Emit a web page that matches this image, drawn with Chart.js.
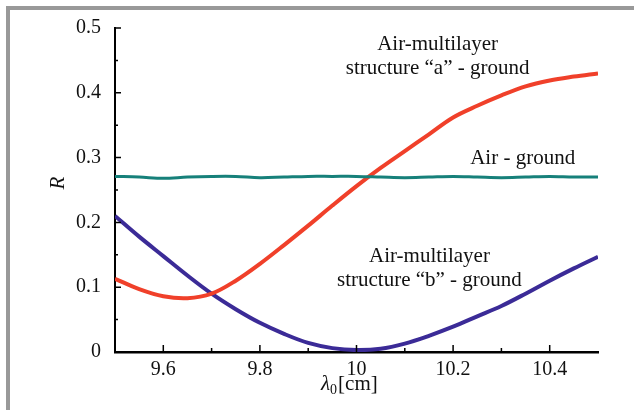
<!DOCTYPE html>
<html>
<head>
<meta charset="utf-8">
<script src="https://cdn.jsdelivr.net/npm/chart.js@4"></script>
<style>
  body { margin: 0; background: #fff; }
  canvas { display: block; }
</style>
</head>
<body>
<canvas id="reflChart" width="634" height="410"></canvas>
<script>
// wavelength lambda_0 [cm]
const lambdas = [9.50, 9.55, 9.60, 9.65, 9.70, 9.75, 9.80, 9.85, 9.90, 9.95, 10.00,
                 10.05, 10.10, 10.15, 10.20, 10.25, 10.30, 10.35, 10.40, 10.45, 10.50];

// reflection coefficient R
const airGround = [0.271, 0.270, 0.268, 0.270, 0.271, 0.271, 0.269, 0.270, 0.271, 0.271, 0.271,
                   0.270, 0.269, 0.270, 0.271, 0.270, 0.269, 0.270, 0.271, 0.270, 0.270];
const structA = [0.113, 0.097, 0.086, 0.083, 0.090, 0.110, 0.136, 0.165, 0.195, 0.226, 0.256,
                 0.284, 0.310, 0.336, 0.362, 0.380, 0.396, 0.410, 0.419, 0.425, 0.430];
const structB = [0.210, 0.178, 0.148, 0.118, 0.090, 0.066, 0.045, 0.028, 0.014, 0.006, 0.003,
                 0.005, 0.013, 0.025, 0.039, 0.055, 0.071, 0.090, 0.110, 0.129, 0.147];

const xTicks = [9.6, 9.7, 9.8, 9.9, 10.0, 10.1, 10.2, 10.3, 10.4];
const xLabels = ['9.6', '', '9.8', '', '10', '', '10.2', '', '10.4'];
const yLabels = ['0', '0.1', '0.2', '0.3', '0.4', '0.5'];

const curveLabels = [
  { lines: ['Air-multilayer', 'structure \u201ca\u201d - ground'], x: 10.168, y: [0.474, 0.438] },
  { lines: ['Air - ground'], x: 10.344, y: [0.298] },
  { lines: ['Air-multilayer', 'structure \u201cb\u201d - ground'], x: 10.151, y: [0.147, 0.111] }
];

const serif = '"Liberation Serif", "Times New Roman", serif';

function pts(ys) {
  return lambdas.map((x, i) => ({ x: x, y: ys[i] }));
}

// frame, inward ticks, axis titles and curve labels
const decor = {
  id: 'decor',
  beforeDraw(chart) {
    const c = chart.ctx;
    c.save();
    c.fillStyle = '#999999';
    c.fillRect(6, 6, 628, 4);
    c.fillRect(6, 6, 4, 404);
    c.restore();
  },
  afterDraw(chart) {
    const c = chart.ctx;
    const xs = chart.scales.x, ys = chart.scales.y;
    const a = chart.chartArea;
    c.save();
    c.strokeStyle = '#000';
    c.lineWidth = 1.5;
    c.beginPath();
    xs.ticks.forEach((t, i) => {
      const px = xs.getPixelForValue(t.value);
      const len = (i % 2 === 0) ? 7 : 4;
      c.moveTo(px, a.bottom);
      c.lineTo(px, a.bottom - len);
    });
    ys.ticks.forEach((t, i) => {
      const py = ys.getPixelForValue(t.value);
      const len = (i % 2 === 0) ? 6 : 3;
      c.moveTo(a.left, py);
      c.lineTo(a.left + len, py);
    });
    c.stroke();

    c.fillStyle = '#111';
    c.textAlign = 'center';
    c.textBaseline = 'middle';
    c.font = '21px ' + serif;
    curveLabels.forEach(l => {
      l.lines.forEach((s, k) => {
        c.fillText(s, xs.getPixelForValue(l.x), ys.getPixelForValue(l.y[k]));
      });
    });

    // y title
    c.save();
    c.translate(58, 183);
    c.rotate(-Math.PI / 2);
    c.font = 'italic 21px ' + serif;
    c.fillText('R', 0, 0);
    c.restore();

    // x title: lambda_0 [cm]
    c.textAlign = 'left';
    c.textBaseline = 'alphabetic';
    let x0 = 321, base = 390;
    c.font = 'italic 21px ' + serif;
    c.fillText('\u03bb', x0, base);
    x0 += c.measureText('\u03bb').width;
    c.font = '14px ' + serif;
    c.fillText('0', x0, base + 4);
    x0 += c.measureText('0').width + 1;
    c.font = '21px ' + serif;
    c.fillText('[cm]', x0, base);
    c.restore();
  }
};

new Chart(document.getElementById('reflChart'), {
  type: 'line',
  data: {
    datasets: [
      { label: 'Air - ground', data: pts(airGround), borderColor: '#16807a', borderWidth: 3 },
      { label: 'Air-multilayer structure "a" - ground', data: pts(structA), borderColor: '#f0402a', borderWidth: 4 },
      { label: 'Air-multilayer structure "b" - ground', data: pts(structB), borderColor: '#3b2b97', borderWidth: 4 }
    ]
  },
  options: {
    responsive: false,
    animation: false,
    layout: { padding: { top: 28, right: 36, left: 0, bottom: 0 } },
    elements: {
      point: { radius: 0 },
      line: { tension: 0.35, fill: false }
    },
    plugins: {
      legend: { display: false },
      tooltip: { enabled: false }
    },
    scales: {
      x: {
        type: 'linear',
        min: 9.5,
        max: 10.5,
        afterBuildTicks: s => { s.ticks = xTicks.map(v => ({ value: v })); },
        afterFit: s => { s.height = 58; },
        grid: { display: false, tickLength: 0 },
        border: { display: true, color: '#000', width: 2.5 },
        ticks: {
          color: '#111',
          padding: 6,
          maxRotation: 0,
          autoSkip: false,
          font: { family: serif, size: 20 },
          callback: (v, i) => xLabels[i]
        }
      },
      y: {
        min: 0,
        max: 0.5,
        afterFit: s => { s.width = 115; },
        grid: { display: false, tickLength: 0 },
        border: { display: true, color: '#000', width: 2 },
        ticks: {
          stepSize: 0.05,
          color: '#111',
          padding: 14,
          autoSkip: false,
          font: { family: serif, size: 20 },
          callback: (v, i) => (i % 2 === 0) ? yLabels[i / 2] : ''
        }
      }
    }
  },
  plugins: [decor]
});
</script>
</body>
</html>
